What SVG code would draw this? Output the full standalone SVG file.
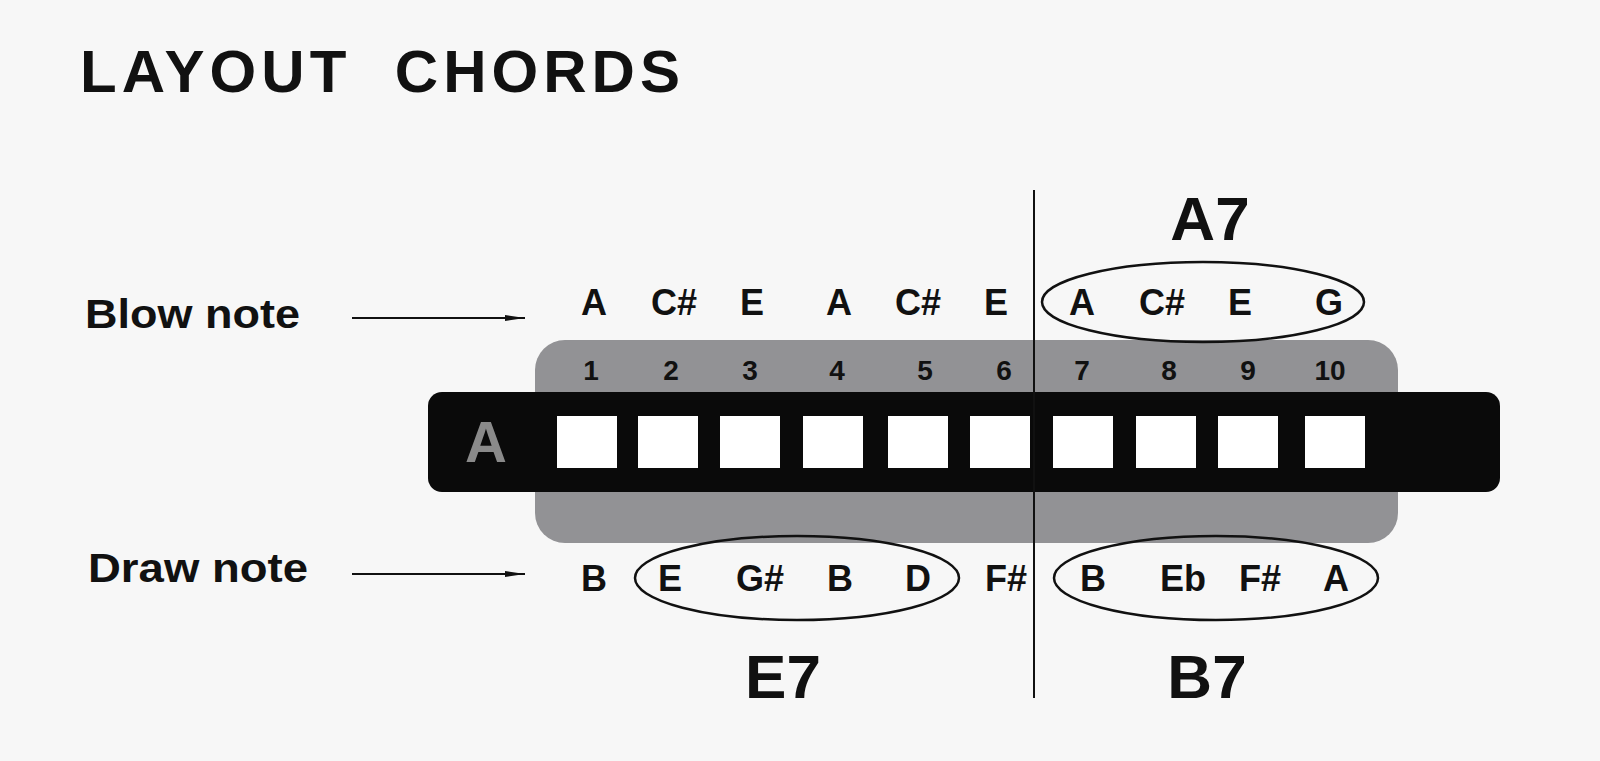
<svg xmlns="http://www.w3.org/2000/svg" width="1600" height="761" viewBox="0 0 1600 761">
<defs><marker id="ar" markerWidth="20" markerHeight="8" refX="20" refY="4" orient="auto" markerUnits="userSpaceOnUse"><path d="M0,1 L20,4 L0,7 Z" fill="#111"/></marker></defs>
<style>
text{font-family:"Liberation Sans",Arial,sans-serif;font-weight:bold;fill:#111}
.n{font-size:36px;text-anchor:middle}
.h{font-size:28px;text-anchor:middle}
.c{font-size:62px;text-anchor:middle}
.l{font-size:40px}
.hole{fill:#fff}
.e{fill:none;stroke:#111;stroke-width:2.5}
</style>
<rect width="1600" height="761" fill="#f7f7f7"/>
<text x="80" y="92" xml:space="preserve" textLength="600" lengthAdjust="spacing" style="font-size:60px">LAYOUT  CHORDS</text>
<g id="harmonica">
<rect x="535" y="340" width="863" height="203" rx="30" fill="#929295"/>
<rect x="428" y="392" width="1072" height="100" rx="14" fill="#0a0a0a"/>
<text x="486" y="462" style="font-size:58px;fill:#8a8a8a;text-anchor:middle">A</text>
<rect class="hole" x="557" y="416" width="60" height="52"/>
<rect class="hole" x="638" y="416" width="60" height="52"/>
<rect class="hole" x="720" y="416" width="60" height="52"/>
<rect class="hole" x="803" y="416" width="60" height="52"/>
<rect class="hole" x="888" y="416" width="60" height="52"/>
<rect class="hole" x="970" y="416" width="60" height="52"/>
<rect class="hole" x="1053" y="416" width="60" height="52"/>
<rect class="hole" x="1136" y="416" width="60" height="52"/>
<rect class="hole" x="1218" y="416" width="60" height="52"/>
<rect class="hole" x="1305" y="416" width="60" height="52"/>
</g>
<g id="numbers">
<text class="h" x="591" y="380">1</text><text class="h" x="671" y="380">2</text><text class="h" x="750" y="380">3</text><text class="h" x="837" y="380">4</text><text class="h" x="925" y="380">5</text><text class="h" x="1004" y="380">6</text><text class="h" x="1082" y="380">7</text><text class="h" x="1169" y="380">8</text><text class="h" x="1248" y="380">9</text><text class="h" x="1330" y="380">10</text>
</g>
<g id="blow">
<text class="n" x="594" y="315">A</text><text class="n" x="674" y="315">C#</text><text class="n" x="752" y="315">E</text><text class="n" x="839" y="315">A</text><text class="n" x="918" y="315">C#</text><text class="n" x="996" y="315">E</text><text class="n" x="1082" y="315">A</text><text class="n" x="1162" y="315">C#</text><text class="n" x="1240" y="315">E</text><text class="n" x="1329" y="315">G</text>
</g>
<g id="draw">
<text class="n" x="594" y="591">B</text><text class="n" x="670" y="591">E</text><text class="n" x="760" y="591">G#</text><text class="n" x="840" y="591">B</text><text class="n" x="918" y="591">D</text><text class="n" x="1006" y="591">F#</text><text class="n" x="1093" y="591">B</text><text class="n" x="1183" y="591">Eb</text><text class="n" x="1260" y="591">F#</text><text class="n" x="1336" y="591">A</text>
</g>
<g id="chords">
<ellipse class="e" cx="1203" cy="302" rx="161" ry="40"/>
<ellipse class="e" cx="797" cy="578" rx="162" ry="42"/>
<ellipse class="e" cx="1216" cy="578" rx="162" ry="42"/>
<text class="c" x="1210" y="240">A7</text>
<text class="c" x="783" y="698">E7</text>
<text class="c" x="1207" y="698">B7</text>
</g>
<g id="labels">
<text class="l" x="85" y="328" textLength="215" lengthAdjust="spacingAndGlyphs">Blow note</text>
<text class="l" x="88" y="582" textLength="220" lengthAdjust="spacingAndGlyphs">Draw note</text>
</g>
<g id="connectors" stroke="#111" stroke-width="2">
<line x1="1034" y1="190" x2="1034" y2="698"/>
<line x1="352" y1="318" x2="525" y2="318" marker-end="url(#ar)"/>
<line x1="352" y1="574" x2="525" y2="574" marker-end="url(#ar)"/>
</g>
</svg>
